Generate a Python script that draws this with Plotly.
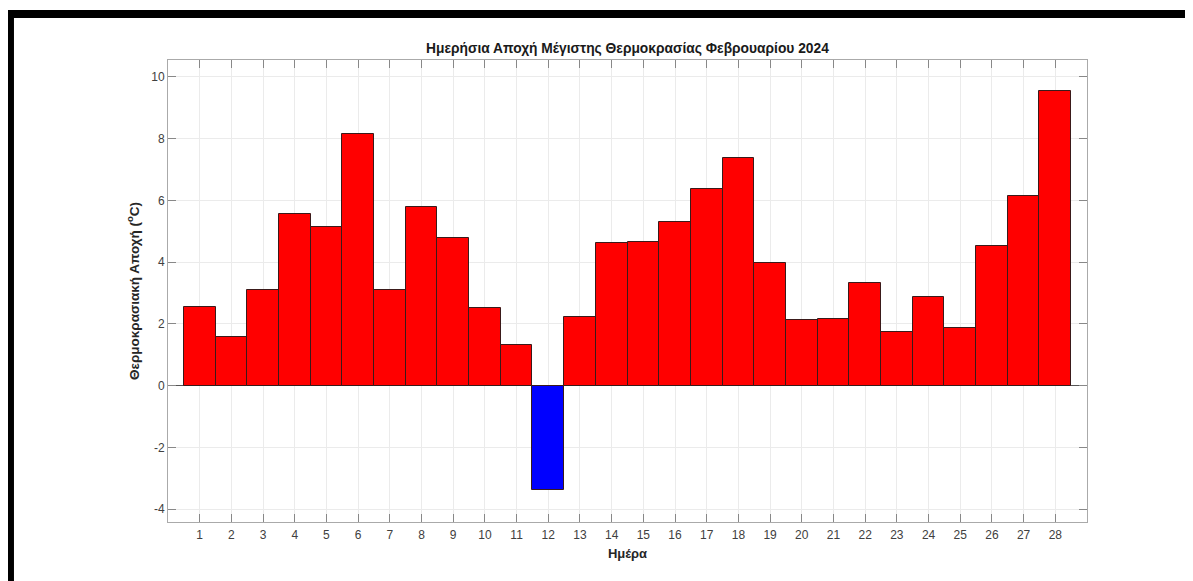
import plotly.graph_objects as go

days = list(range(1, 29))
anomaly = [2.55, 1.58, 3.10, 5.56, 5.14, 8.15, 3.10, 5.78, 4.78, 2.52,
           1.32, -3.39, 2.22, 4.62, 4.65, 5.30, 6.37, 7.37, 3.97, 2.13,
           2.16, 3.33, 1.74, 2.87, 1.87, 4.53, 6.14, 9.56]
y_ticks = [-4, -2, 0, 2, 4, 6, 8, 10]

colors = ["#ff0000" if v >= 0 else "#0000ff" for v in anomaly]

fig = go.Figure()
fig.add_trace(go.Bar(
    x=days, y=anomaly,
    marker=dict(color=colors, line=dict(color="#3a1a1a", width=1)),
    width=1,
    hovertemplate="day %{x}<br>%{y:.2f} °C<extra></extra>",
))

FONT = "Liberation Sans, Arial, sans-serif"
axis_font = dict(family=FONT, size=12, color="#404040")
fig.update_xaxes(
    range=[0, 29], tickvals=days, ticks="inside", ticklen=8, tickcolor="#888",
    showline=True, linecolor="#aaa", mirror="ticks",
    showgrid=True, gridcolor="#ebebeb", zeroline=False,
    tickfont=axis_font, ticklabelstandoff=2,
    title=dict(text="<b>Ημέρα</b>", standoff=7,
               font=dict(family=FONT, size=13, color="#262626")),
)
# plain hyphen minus signs, as in the original
fig.update_yaxes(
    range=[-4.42, 10.55], tickvals=y_ticks, ticktext=[str(v) for v in y_ticks],
    ticks="inside", ticklen=8, tickcolor="#888",
    showline=True, linecolor="#aaa", mirror="ticks",
    showgrid=True, gridcolor="#ebebeb",
    zeroline=True, zerolinecolor="#555", zerolinewidth=1,
    tickfont=axis_font,
    title=dict(text="<b>Θερμοκρασιακή Αποχή (<sup>o</sup>C)</b>", standoff=8,
               font=dict(family=FONT, size=13.5, color="#262626")),
)

# black frame along top and left edges of the picture
fig.add_shape(type="rect", xref="paper", yref="paper",
              x0=-0.1763, x1=1.2, y0=1.0909, y1=1.1082,
              fillcolor="black", line=dict(width=0), layer="above")
fig.add_shape(type="rect", xref="paper", yref="paper",
              x0=-0.1763, x1=-0.1676, y0=-0.3, y1=1.1082,
              fillcolor="black", line=dict(width=0), layer="above")

# page body adds an 8px offset, so the figure is 8px smaller than the window
fig.update_layout(
    title=dict(text="<b>Ημερήσια Αποχή Μέγιστης Θερμοκρασίας Φεβρουαρίου 2024</b>",
               x=0.5, xref="paper", xanchor="center", y=1 - 40 / 573, yanchor="middle",
               font=dict(family=FONT, size=13.8, color="#1a1a1a")),
    width=1185, height=573,
    margin=dict(l=160, r=106, t=52, b=59),
    plot_bgcolor="white", paper_bgcolor="white",
    bargap=0, showlegend=False,
)

fig.write_html("out.html")
